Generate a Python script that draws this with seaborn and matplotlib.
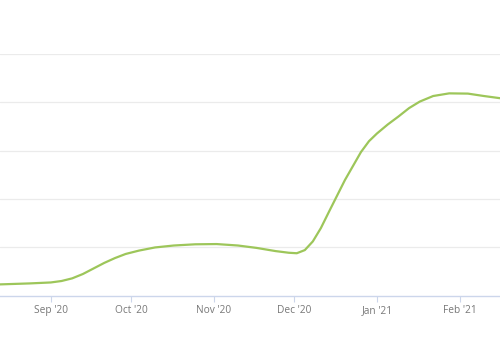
import numpy as np
import pandas as pd
import matplotlib
matplotlib.use('Agg')
import matplotlib.pyplot as plt
import seaborn as sns

# values (y axis unlabeled, scaled 0-100 between gridlines)
dates = ['2020-08-13', '2020-08-24', '2020-09-01', '2020-09-05', '2020-09-09',
         '2020-09-13', '2020-09-17', '2020-09-21', '2020-09-25', '2020-09-29',
         '2020-10-04', '2020-10-10', '2020-10-17', '2020-10-25', '2020-11-02',
         '2020-11-10', '2020-11-17', '2020-11-24', '2020-11-29', '2020-12-02',
         '2020-12-05', '2020-12-08', '2020-12-11', '2020-12-14', '2020-12-17',
         '2020-12-20', '2020-12-23', '2020-12-26', '2020-12-29', '2021-01-01',
         '2021-01-05', '2021-01-09', '2021-01-13', '2021-01-17', '2021-01-22',
         '2021-01-28', '2021-02-04', '2021-02-10', '2021-02-16']
values = [4.6, 5.0, 5.4, 6.0, 7.1,
          8.9, 11.2, 13.5, 15.5, 17.2,
          18.6, 19.9, 20.7, 21.2, 21.3,
          20.7, 19.7, 18.4, 17.7, 17.5,
          18.8, 22.4, 27.9, 34.6, 41.2,
          47.8, 53.6, 59.4, 63.9, 67.1,
          70.8, 74.1, 77.6, 80.3, 82.6,
          83.7, 83.6, 82.6, 81.7]
tick_dates = ['2020-09-01', '2020-10-01', '2020-11-01', '2020-12-01',
              '2021-01-01', '2021-02-01']
tick_labels = ["Sep '20", "Oct '20", "Nov '20", "Dec '20", "Jan '21", "Feb '21"]
y_grid = [0, 20, 40, 60, 80, 100]

df = pd.DataFrame({'date': pd.to_datetime(dates), 'value': values})

sns.set_theme(style='white')
plt.rcParams['font.family'] = ['Open Sans', 'DejaVu Sans']

fig = plt.figure(figsize=(5, 3.5), dpi=100)
fig.patch.set_facecolor('white')
# plot area runs past the left/right edges of the image, as in the crop
ax = fig.add_axes([0, (350 - 295.5) / 350, 1, 241.5 / 350])

sns.lineplot(data=df, x='date', y='value', ax=ax, color='#9dc65a', linewidth=1.6)

ax.set_xlim(pd.Timestamp('2020-08-13'), pd.Timestamp('2021-02-16'))
ax.set_ylim(0, 100)

for v in y_grid[1:]:
    ax.axhline(v, color='#ebebeb', linewidth=0.9, zorder=0)

ax.set_xticks(pd.to_datetime(tick_dates))
ax.set_xticklabels(tick_labels, fontsize=7.3, color='#777777')
ax.set_yticks([])
ax.set_xlabel('')
ax.set_ylabel('')

for side in ['top', 'left', 'right']:
    ax.spines[side].set_visible(False)
ax.spines['bottom'].set_color('#ccd6eb')
ax.spines['bottom'].set_linewidth(1)
ax.tick_params(axis='x', length=4, width=0.8, color='#ccd6eb', pad=3, bottom=True)

fig.savefig('out.png', dpi=100)
